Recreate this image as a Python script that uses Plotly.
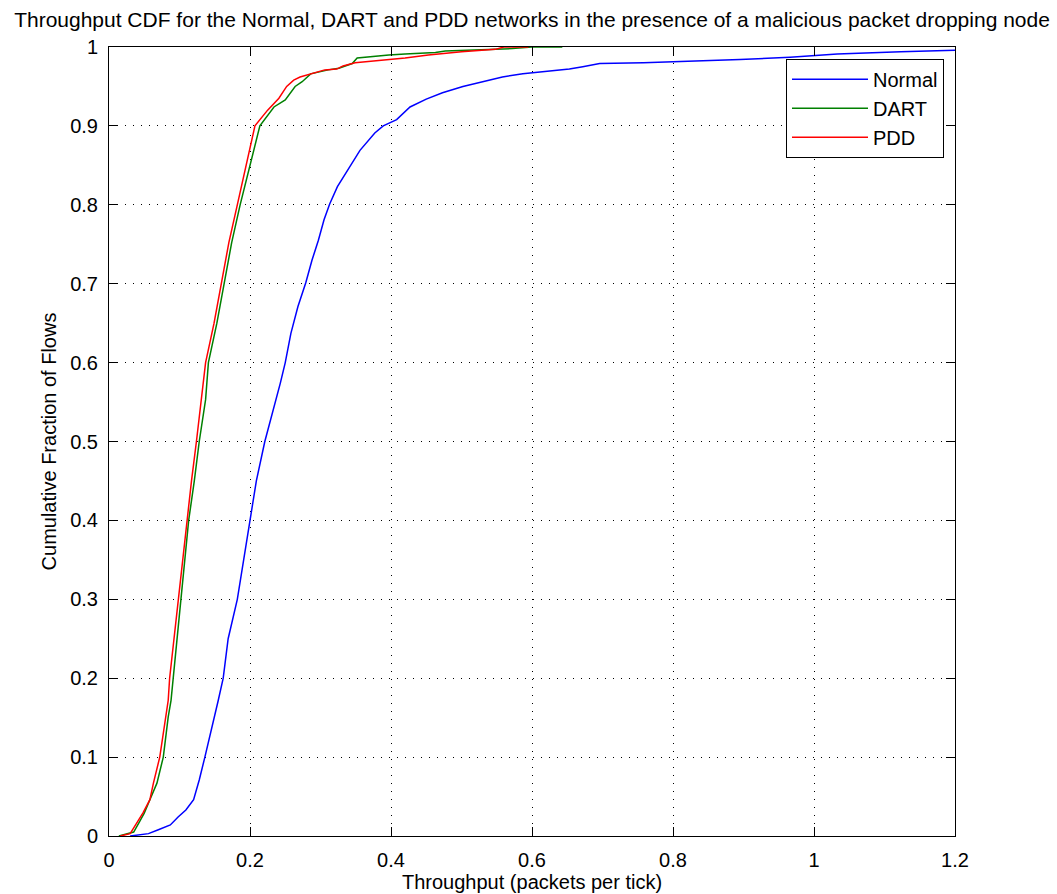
import plotly.graph_objects as go

normal_x = [0.030, 0.056, 0.070, 0.087, 0.098, 0.109, 0.120, 0.128, 0.136, 0.150,
            0.155, 0.162, 0.169, 0.182, 0.191, 0.201, 0.209, 0.221, 0.237, 0.243,
            0.250, 0.258, 0.268, 0.279, 0.288, 0.297, 0.305, 0.313, 0.324, 0.341,
            0.356, 0.377, 0.389, 0.408, 0.427, 0.450, 0.473, 0.502, 0.530, 0.558,
            0.587, 0.620, 0.653, 0.672, 0.696, 0.758, 0.862, 0.895, 0.966, 1.004,
            1.033, 1.123, 1.175, 1.200]
normal_y = [0.000, 0.003, 0.008, 0.014, 0.024, 0.033, 0.046, 0.071, 0.100, 0.151,
            0.172, 0.200, 0.250, 0.300, 0.350, 0.400, 0.450, 0.500, 0.553, 0.574,
            0.600, 0.637, 0.671, 0.701, 0.730, 0.755, 0.781, 0.801, 0.823, 0.848,
            0.869, 0.891, 0.900, 0.908, 0.924, 0.934, 0.942, 0.950, 0.956, 0.962,
            0.966, 0.969, 0.972, 0.975, 0.979, 0.980, 0.983, 0.984, 0.987, 0.989,
            0.991, 0.994, 0.995, 0.996]

dart_x = [0.014, 0.035, 0.042, 0.050, 0.058, 0.068, 0.077, 0.084, 0.088, 0.091,
          0.097, 0.102, 0.108, 0.113, 0.121, 0.128, 0.137, 0.141, 0.153, 0.163,
          0.174, 0.186, 0.200, 0.214, 0.234, 0.250, 0.264, 0.274, 0.286, 0.295,
          0.311, 0.326, 0.335, 0.345, 0.352, 0.373, 0.397, 0.420, 0.463, 0.477,
          0.515, 0.572, 0.600, 0.643]
dart_y = [0.000, 0.005, 0.016, 0.029, 0.046, 0.067, 0.100, 0.151, 0.172, 0.200,
          0.250, 0.300, 0.350, 0.400, 0.450, 0.500, 0.553, 0.600, 0.650, 0.700,
          0.752, 0.800, 0.850, 0.900, 0.924, 0.933, 0.950, 0.956, 0.966, 0.968,
          0.971, 0.973, 0.976, 0.979, 0.986, 0.988, 0.990, 0.991, 0.993, 0.995,
          0.996, 0.998, 1.000, 1.000]

pdd_x = [0.016, 0.030, 0.039, 0.048, 0.058, 0.063, 0.072, 0.080, 0.084, 0.086,
         0.092, 0.099, 0.104, 0.111, 0.117, 0.124, 0.131, 0.137, 0.149, 0.159,
         0.170, 0.182, 0.194, 0.207, 0.225, 0.241, 0.252, 0.262, 0.271, 0.283,
         0.292, 0.306, 0.323, 0.332, 0.349, 0.387, 0.420, 0.453, 0.500, 0.548,
         0.560, 0.595]
pdd_y = [0.000, 0.003, 0.016, 0.029, 0.046, 0.067, 0.100, 0.151, 0.172, 0.200,
         0.250, 0.300, 0.350, 0.400, 0.450, 0.500, 0.553, 0.600, 0.650, 0.700,
         0.752, 0.800, 0.850, 0.900, 0.920, 0.935, 0.950, 0.958, 0.962, 0.965,
         0.968, 0.971, 0.972, 0.976, 0.980, 0.983, 0.986, 0.990, 0.994, 0.997,
         1.000, 1.000]

x_ticks = [0, 0.2, 0.4, 0.6, 0.8, 1.0, 1.2]
x_tick_labels = ["0", "0.2", "0.4", "0.6", "0.8", "1", "1.2"]
y_ticks = [0, 0.1, 0.2, 0.3, 0.4, 0.5, 0.6, 0.7, 0.8, 0.9, 1.0]
y_tick_labels = ["0", "0.1", "0.2", "0.3", "0.4", "0.5", "0.6", "0.7", "0.8", "0.9", "1"]

FONT = "Liberation Sans, Arial, Helvetica, sans-serif"
W, H = 1057, 894
M_L, M_R, M_T, M_B = 109, 102, 47, 58
PLOT_H = H - M_T - M_B

fig = go.Figure()
fig.add_trace(go.Scatter(x=normal_x, y=normal_y, mode="lines", name="Normal",
                         line=dict(color="#0000FF", width=1.5)))
fig.add_trace(go.Scatter(x=dart_x, y=dart_y, mode="lines", name="DART",
                         line=dict(color="#008000", width=1.5)))
fig.add_trace(go.Scatter(x=pdd_x, y=pdd_y, mode="lines", name="PDD",
                         line=dict(color="#FF0000", width=1.5)))

axis_common = dict(
    showline=True, linecolor="black", linewidth=1, mirror="ticks",
    ticks="inside", ticklen=9, tickcolor="black", tickwidth=1,
    showgrid=True, gridcolor="black", gridwidth=1, griddash="1px,7px",
    zeroline=False, tickfont=dict(family=FONT, size=20, color="black"),
    ticklabelstandoff=6, automargin=False,
)

fig.update_layout(
    width=W, height=H,
    margin=dict(l=M_L, r=M_R, t=M_T, b=M_B),
    paper_bgcolor="white", plot_bgcolor="white",
    font=dict(family=FONT, size=20, color="black"),
    title=dict(text="Throughput CDF for the Normal, DART and PDD networks in the presence of a malicious packet dropping node",
               x=0.5, xref="paper", y=1 - 20 / H, yref="container", yanchor="middle",
               xanchor="center", font=dict(family=FONT, size=21, color="black"),
               automargin=False),
    xaxis=dict(range=[0, 1.2], tickvals=x_ticks, ticktext=x_tick_labels,
               **axis_common),
    yaxis=dict(range=[0, 1], tickvals=y_ticks, ticktext=y_tick_labels,
               title=dict(text="Cumulative Fraction of Flows", standoff=8,
                          font=dict(family=FONT, size=20, color="black")),
               **axis_common),
    legend=dict(x=0.987, y=0.985, xanchor="right", yanchor="top",
                bgcolor="white", bordercolor="black", borderwidth=1,
                font=dict(family=FONT, size=20, color="black"),
                itemwidth=76),
    showlegend=True,
)

fig.add_annotation(text="Throughput (packets per tick)", xref="paper", yref="paper",
                   x=0.5, y=-33 / PLOT_H, xanchor="center", yanchor="top",
                   showarrow=False, font=dict(family=FONT, size=20, color="black"))

fig.write_html("out.html", config={"displayModeBar": False},
               post_script="document.body.style.margin='0';")
